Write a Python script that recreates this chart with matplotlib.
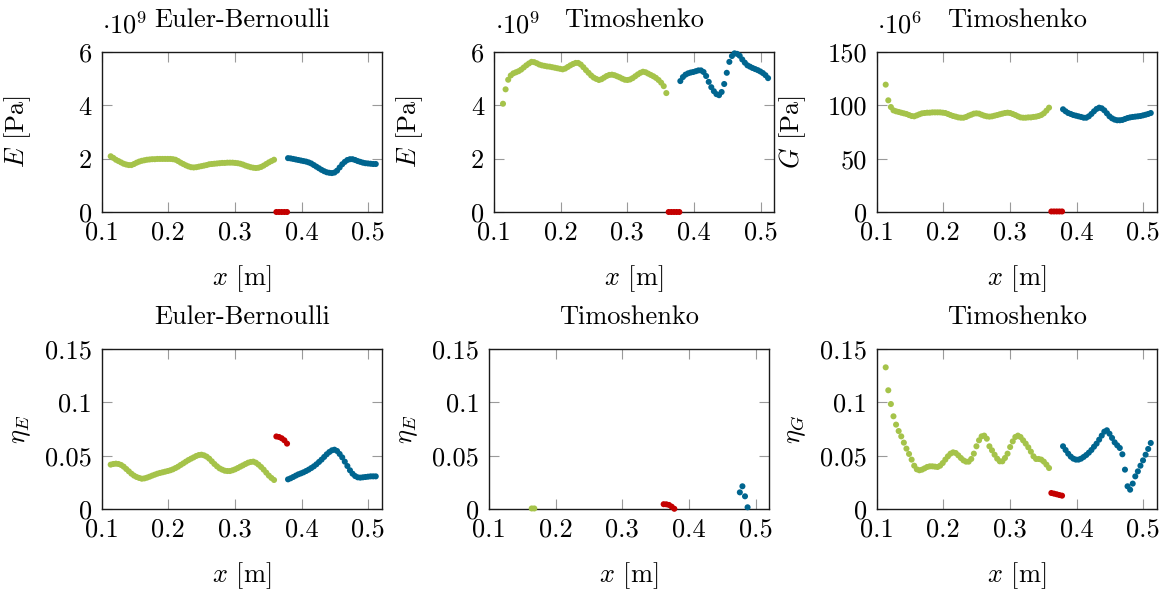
import numpy as np
import matplotlib
matplotlib.use("Agg")
import matplotlib.pyplot as plt

# ---------------- data ----------------
# sample positions along the beam [m]
x_green = np.linspace(0.1135, 0.3585, 64)
x_blue = np.linspace(0.3795, 0.5111, 35)
x_red = np.linspace(0.362, 0.378, 5)

# Euler-Bernoulli, E [1e9 Pa]
eb_E_green = [2.09, 2.03, 1.96, 1.91, 1.86, 1.81, 1.78, 1.76, 1.76, 1.80,
              1.85, 1.89, 1.92, 1.94, 1.96, 1.97, 1.98, 1.98, 1.99, 1.99,
              1.99, 1.99, 1.99, 1.99, 1.98, 1.96, 1.91, 1.85, 1.80, 1.75,
              1.71, 1.68, 1.67, 1.68, 1.70, 1.72, 1.74, 1.76, 1.79, 1.80,
              1.81, 1.82, 1.83, 1.84, 1.84, 1.85, 1.85, 1.85, 1.84, 1.83,
              1.81, 1.78, 1.74, 1.71, 1.68, 1.66, 1.65, 1.66, 1.69, 1.74,
              1.80, 1.86, 1.91, 1.96]
eb_E_blue = [2.02, 2.01, 1.99, 1.97, 1.95, 1.93, 1.91, 1.89, 1.86, 1.82,
             1.76, 1.70, 1.64, 1.58, 1.53, 1.49, 1.47, 1.46, 1.48, 1.55,
             1.67, 1.79, 1.88, 1.95, 1.98, 1.98, 1.95, 1.91, 1.88, 1.85,
             1.83, 1.82, 1.81, 1.80, 1.80]
eb_E_red = [0.0, 0.0, 0.0, 0.0, 0.0]

# Timoshenko, E [1e9 Pa]
ti_E_green = [4.06, 4.60, 4.96, 5.12, 5.20, 5.24, 5.28, 5.34, 5.42, 5.50,
              5.57, 5.63, 5.62, 5.58, 5.53, 5.50, 5.48, 5.46, 5.45, 5.43,
              5.41, 5.39, 5.37, 5.35, 5.38, 5.44, 5.50, 5.55, 5.59, 5.59,
              5.53, 5.43, 5.32, 5.22, 5.12, 5.04, 4.99, 4.95, 4.98, 5.04,
              5.10, 5.14, 5.15, 5.13, 5.09, 5.05, 5.00, 4.96, 4.95, 4.97,
              5.02, 5.09, 5.16, 5.22, 5.26, 5.24, 5.19, 5.14, 5.09, 5.03,
              4.95, 4.85, 4.72, 4.46]
ti_E_blue = [4.91, 5.06, 5.15, 5.20, 5.23, 5.25, 5.28, 5.31, 5.31, 5.25,
             5.10, 4.88, 4.68, 4.53, 4.42, 4.38, 4.50, 4.80, 5.22, 5.63,
             5.85, 5.95, 5.93, 5.86, 5.72, 5.60, 5.50, 5.45, 5.40, 5.36,
             5.32, 5.27, 5.21, 5.13, 5.02]
ti_E_red = [0.0, 0.0, 0.0, 0.0, 0.0]

# Timoshenko, G [1e6 Pa]
ti_G_green = [119.4, 104.7, 98.4, 95.3, 94.4, 93.8, 93.1, 92.5, 91.9, 90.9,
              90.0, 89.7, 90.6, 91.6, 92.5, 92.8, 93.1, 93.1, 93.4, 93.4,
              93.4, 93.4, 93.1, 92.8, 91.9, 90.9, 90.0, 89.4, 88.7, 88.4,
              88.4, 89.1, 90.3, 91.2, 92.2, 92.5, 92.2, 91.2, 90.3, 89.7,
              89.4, 89.7, 90.3, 90.9, 91.6, 92.2, 92.8, 93.1, 92.8, 91.9,
              90.9, 89.7, 88.7, 88.4, 88.4, 88.7, 88.7, 89.1, 89.4, 90.0,
              90.9, 92.5, 95.0, 97.8]
ti_G_blue = [96.3, 94.4, 92.8, 91.9, 90.9, 90.3, 89.7, 89.1, 88.4, 88.4,
             89.7, 91.9, 94.4, 96.6, 97.8, 97.2, 95.3, 92.5, 89.7, 87.8,
             86.6, 86.0, 86.0, 86.3, 87.2, 88.1, 88.7, 89.1, 89.4, 89.7,
             90.0, 90.6, 91.2, 91.9, 92.8]
ti_G_red = [0.5, 0.5, 0.5, 0.5, 0.5]

# Euler-Bernoulli, eta_E
eb_eta_green = [0.0416, 0.0422, 0.0425, 0.0422, 0.0413, 0.0397, 0.0375, 0.0353, 0.0331, 0.0313,
                0.0300, 0.0291, 0.0284, 0.0287, 0.0294, 0.0303, 0.0313, 0.0322, 0.0331, 0.0338,
                0.0344, 0.0350, 0.0356, 0.0363, 0.0372, 0.0384, 0.0397, 0.0413, 0.0428, 0.0444,
                0.0459, 0.0472, 0.0484, 0.0497, 0.0506, 0.0509, 0.0503, 0.0491, 0.0472, 0.0447,
                0.0422, 0.0400, 0.0381, 0.0369, 0.0359, 0.0356, 0.0356, 0.0363, 0.0372, 0.0384,
                0.0397, 0.0409, 0.0422, 0.0434, 0.0441, 0.0444, 0.0434, 0.0416, 0.0394, 0.0369,
                0.0341, 0.0313, 0.0291, 0.0272]
eb_eta_blue = [0.0278, 0.0288, 0.0300, 0.0313, 0.0325, 0.0334, 0.0344, 0.0356, 0.0369, 0.0384,
               0.0400, 0.0419, 0.0441, 0.0463, 0.0488, 0.0513, 0.0534, 0.0550, 0.0556, 0.0544,
               0.0516, 0.0484, 0.0444, 0.0403, 0.0363, 0.0331, 0.0309, 0.0297, 0.0294, 0.0297,
               0.0300, 0.0303, 0.0306, 0.0306, 0.0306]
eb_eta_red = [0.0680, 0.0675, 0.0663, 0.0644, 0.0613]

# Timoshenko, eta_E (only the points inside the plotted range)
ti_etaE_green_idx = [13, 14]
ti_etaE_green = [0.0005, 0.0005]
ti_etaE_blue_idx = [25, 26, 27, 28]
ti_etaE_blue = [0.0156, 0.0213, 0.0119, 0.0016]
ti_etaE_red = [0.0045, 0.0044, 0.0038, 0.0022, 0.0002]

# Timoshenko, eta_G
ti_etaG_green = [0.1328, 0.1113, 0.0984, 0.0869, 0.0791, 0.0731, 0.0681, 0.0622, 0.0566, 0.0516,
                 0.0463, 0.0406, 0.0372, 0.0363, 0.0369, 0.0381, 0.0394, 0.0400, 0.0400, 0.0397,
                 0.0394, 0.0406, 0.0431, 0.0463, 0.0494, 0.0519, 0.0531, 0.0525, 0.0503, 0.0478,
                 0.0456, 0.0444, 0.0444, 0.0469, 0.0519, 0.0588, 0.0644, 0.0681, 0.0688, 0.0659,
                 0.0588, 0.0550, 0.0509, 0.0472, 0.0447, 0.0447, 0.0478, 0.0519, 0.0581, 0.0634,
                 0.0675, 0.0688, 0.0675, 0.0644, 0.0613, 0.0578, 0.0538, 0.0494, 0.0469, 0.0469,
                 0.0463, 0.0444, 0.0416, 0.0384]
ti_etaG_blue = [0.0588, 0.0553, 0.0519, 0.0491, 0.0472, 0.0463, 0.0463, 0.0472, 0.0488, 0.0506,
                0.0528, 0.0553, 0.0584, 0.0613, 0.0650, 0.0688, 0.0725, 0.0738, 0.0706, 0.0666,
                0.0625, 0.0597, 0.0572, 0.0513, 0.0369, 0.0213, 0.0181, 0.0238, 0.0306, 0.0353,
                0.0406, 0.0456, 0.0509, 0.0563, 0.0619]
ti_etaG_red = [0.0150, 0.0144, 0.0138, 0.0131, 0.0125]

titles = ["Euler-Bernoulli", "Timoshenko", "Timoshenko",
          "Euler-Bernoulli", "Timoshenko", "Timoshenko"]
ylabels = [r"$E$ [Pa]", r"$E$ [Pa]", r"$G$ [Pa]",
           r"$\eta_E$", r"$\eta_E$", r"$\eta_G$"]
xticks = [0.1, 0.2, 0.3, 0.4, 0.5]
xticklabels = ["0.1", "0.2", "0.3", "0.4", "0.5"]
yticks_E = [0, 2, 4, 6]
yticklabels_E = ["0", "2", "4", "6"]
yticks_G = [0, 50, 100, 150]
yticklabels_G = ["0", "50", "100", "150"]
yticks_eta = [0, 0.05, 0.1, 0.15]
yticklabels_eta = ["0", "0.05", "0.1", "0.15"]

# ---------------- style ----------------
GREEN = "#A5C34A"
BLUE = "#00658F"
RED = "#C40000"

plt.rcParams["font.family"] = "serif"
plt.rcParams["font.serif"] = ["cmr10"]
plt.rcParams["mathtext.fontset"] = "cm"
plt.rcParams["axes.formatter.use_mathtext"] = True
FS = 19

fig = plt.figure(figsize=(11.63, 5.90), dpi=100)
W, H = 1163.0, 590.0


def add_ax(left_px, top_px, w_px=280.0, h_px=160.0):
    return fig.add_axes([left_px / W, 1 - (top_px + h_px) / H, w_px / W, h_px / H])


axes = [add_ax(101.7, 52), add_ax(494, 52), add_ax(876.7, 52),
        add_ax(101.7, 349), add_ax(489, 349), add_ax(876.7, 349)]

MS = 19


def dots(ax, x, y, c):
    ax.scatter(x, y, s=MS, c=c, edgecolors="none", clip_on=False, zorder=3)


# panel data
xg = np.asarray(x_green)
xb = np.asarray(x_blue)
panels = [
    (xg, eb_E_green, xb, eb_E_blue, x_red, eb_E_red),
    (xg, ti_E_green, xb, ti_E_blue, x_red, ti_E_red),
    (xg, ti_G_green, xb, ti_G_blue, x_red, ti_G_red),
    (xg, eb_eta_green, xb, eb_eta_blue, x_red, eb_eta_red),
    (xg[ti_etaE_green_idx], ti_etaE_green, xb[ti_etaE_blue_idx], ti_etaE_blue, x_red, ti_etaE_red),
    (xg, ti_etaG_green, xb, ti_etaG_blue, x_red, ti_etaG_red),
]
ytick_sets = [(yticks_E, yticklabels_E, (0, 6)), (yticks_E, yticklabels_E, (0, 6)),
              (yticks_G, yticklabels_G, (0, 150)),
              (yticks_eta, yticklabels_eta, (0, 0.15)), (yticks_eta, yticklabels_eta, (0, 0.15)),
              (yticks_eta, yticklabels_eta, (0, 0.15))]
offsets = [r"$\cdot 10^{9}$", r"$\cdot 10^{9}$", r"$\cdot 10^{6}$", None, None, None]

for k, ax in enumerate(axes):
    gx, gy, bx, by, rx, ry = panels[k]
    dots(ax, gx, gy, GREEN)
    dots(ax, bx, by, BLUE)
    dots(ax, rx, ry, RED)
    yt, ytl, ylim = ytick_sets[k]
    ax.set_xlim(0.1, 0.52)
    ax.set_ylim(*ylim)
    ax.set_xticks(xticks)
    ax.set_xticklabels(xticklabels)
    ax.set_yticks(yt)
    ax.set_yticklabels(ytl)
    ax.tick_params(axis="both", which="major", direction="in", length=7.5, width=0.8,
                   color="#9a9a9a", top=True, right=True, labelsize=FS)
    ax.tick_params(axis="x", pad=6.5)
    ax.tick_params(axis="y", pad=7)
    for sp in ax.spines.values():
        sp.set_linewidth(1.0)
        sp.set_color("#1a1a1a")
    ax.set_title(titles[k], fontsize=FS, pad=18)
    ax.set_xlabel(r"$x$ [m]", fontsize=FS, va="top")
    ax.xaxis.set_label_coords(0.5, -0.32)
    ax.set_ylabel(ylabels[k], fontsize=FS)
    ax.yaxis.set_label_coords(-0.245, 0.5)
    if offsets[k]:
        ax.annotate(offsets[k], xy=(0, 1), xycoords="axes fraction",
                    xytext=(0.5, 13.5), textcoords="offset points",
                    ha="left", va="baseline", fontsize=FS)

fig.savefig("out.png", dpi=100)
